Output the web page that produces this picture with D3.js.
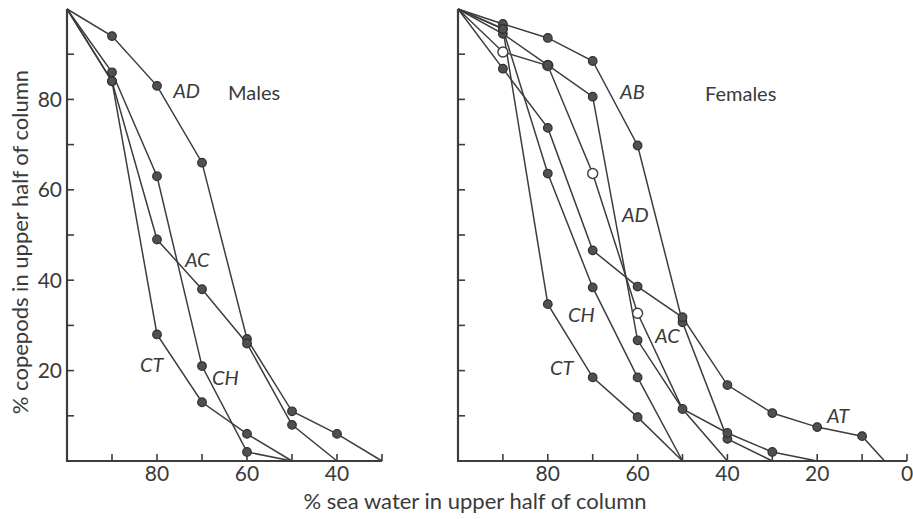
<!DOCTYPE html>
<html>
<head>
<meta charset="utf-8">
<script src="https://cdn.jsdelivr.net/npm/d3@7"></script>
<style>
  html, body { margin: 0; padding: 0; background: #fff; }
  svg { display: block; }
  text { font-family: Lato, "Open Sans", sans-serif; fill: #3a3a3a; }
</style>
</head>
<body>
<svg id="chart" width="913" height="519"></svg>
<script>
// ---- Data (x = % sea water in upper half, y = % copepods in upper half) ----
const maleAD = [[100,100],[90,94],[80,83],[70,66],[60,27],[50,11],[40,6],[30,0]];
const maleAC = [[100,100],[90,84],[80,49],[70,38],[60,26],[50,8],[40,0]];
const maleCH = [[100,100],[90,86],[80,63],[70,21],[60,2],[50,0]];
const maleCT = [[100,100],[90,84],[80,28],[70,13],[60,6],[50,0]];

const femaleAC = [[100,100],[90,90.5],[80,87.5],[70,63.6],[60,32.7],[50,11.5],[40,0]];
const femaleAB = [[100,100],[90,96.7],[80,93.6],[70,88.5],[60,69.8],[50,30.7],[40,4.9],[30,0]];
const femaleAD = [[100,100],[90,94.5],[80,87.6],[70,80.6],[60,26.7],[50,11.5],[40,6.2],[30,2],[20,0]];
const femaleAT = [[100,100],[90,86.8],[80,73.7],[70,46.6],[60,38.6],[50,31.8],[40,16.8],[30,10.6],[20,7.5],[10,5.5],[5,0]];
const femaleCH = [[100,100],[90,95.6],[80,63.6],[70,38.4],[60,18.5],[50,0]];
const femaleCT = [[100,100],[90,95.6],[80,34.7],[70,18.5],[60,9.7],[50,0]];

const yTicks = [10,20,30,40,50,60,70,80,90];
const yTickLabels = [20,40,60,80];
const maleXTicks = [90,80,70,60,50,40,30];
const maleXTickLabels = [80,60,40];
const femaleXTicks = [90,80,70,60,50,40,30,20,10,0];
const femaleXTickLabels = [80,60,40,20,0];

const maleLabels = [
  {text:"AD", x:76.4, y:80.3},
  {text:"AC", x:73.8, y:42.9},
  {text:"CT", x:83.8, y:19.7},
  {text:"CH", x:67.8, y:16.8}
];
const femaleLabels = [
  {text:"AB", x:63.9, y:80},
  {text:"AD", x:63.5, y:52.9},
  {text:"AC", x:56.1, y:26.1},
  {text:"CH", x:75.5, y:30.7},
  {text:"CT", x:79.5, y:19},
  {text:"AT", x:17.8, y:8.4}
];

// ---- Layout ----
const svg = d3.select("#chart");
const INK = "#3d3d3d";
const y = d3.scaleLinear().domain([0,100]).range([461, 9]);
const xMale = d3.scaleLinear().domain([100,30]).range([67, 382]);
const xFemale = d3.scaleLinear().domain([100,0]).range([458, 907]);

function panel(x, series, openSeries, xTicks, xTickLabels, labelY, labels, title, titlePos) {
  const g = svg.append("g");
  g.append("line").attr("x1", x(100)).attr("x2", x(100)).attr("y1", y(100)).attr("y2", y(0))
    .attr("stroke", INK).attr("stroke-width", 2.2);
  g.append("line").attr("x1", x(100) - 1).attr("x2", x(x.domain()[1])).attr("y1", y(0)).attr("y2", y(0))
    .attr("stroke", INK).attr("stroke-width", 2.2);
  g.selectAll(".yt").data(yTicks).join("line")
    .attr("x1", x(100)).attr("x2", x(100) + 7)
    .attr("y1", d => y(d)).attr("y2", d => y(d))
    .attr("stroke", INK).attr("stroke-width", 1.6);
  g.selectAll(".xt").data(xTicks).join("line")
    .attr("x1", d => x(d)).attr("x2", d => x(d))
    .attr("y1", y(0)).attr("y2", y(0) - 7)
    .attr("stroke", INK).attr("stroke-width", 1.6);
  g.selectAll(".xl").data(xTickLabels).join("text")
    .attr("x", d => x(d)).attr("y", 481)
    .attr("text-anchor", "middle").attr("font-size", 21)
    .text(d => d);
  if (labelY) {
    g.selectAll(".yl").data(yTickLabels).join("text")
      .attr("x", x(100) - 5).attr("y", d => y(d) + 7.5)
      .attr("text-anchor", "end").attr("font-size", 21)
      .text(d => d);
  }
  const line = d3.line().x(d => x(d[0])).y(d => y(d[1]));
  const all = openSeries.concat(series);
  g.selectAll(".ln").data(all).join("path")
    .attr("d", line).attr("fill", "none")
    .attr("stroke", INK).attr("stroke-width", 1.5);
  openSeries.forEach(s => {
    g.selectAll(null).data(s.filter(d => d[0] < 100 && d[1] > 0 && d[0] !== 50)).join("circle")
      .attr("cx", d => x(d[0])).attr("cy", d => y(d[1])).attr("r", 5)
      .attr("fill", "#fff").attr("stroke", INK).attr("stroke-width", 1.4);
  });
  series.forEach(s => {
    g.selectAll(null).data(s.filter(d => d[0] < 100 && d[1] > 0)).join("circle")
      .attr("cx", d => x(d[0])).attr("cy", d => y(d[1])).attr("r", 4.3)
      .attr("fill", "#505050").attr("stroke", "#2f2f2f").attr("stroke-width", 1.2);
  });
  g.selectAll(".lab").data(labels).join("text")
    .attr("x", d => x(d.x)).attr("y", d => y(d.y))
    .attr("font-size", 20).attr("font-style", "italic")
    .text(d => d.text);
  g.append("text").attr("x", titlePos[0]).attr("y", titlePos[1])
    .attr("font-size", 20).text(title);
}

panel(xMale, [maleAD, maleAC, maleCH, maleCT], [], maleXTicks, maleXTickLabels, true, maleLabels, "Males", [228, 100]);
panel(xFemale, [femaleAB, femaleAD, femaleAT, femaleCH, femaleCT], [femaleAC], femaleXTicks, femaleXTickLabels, false, femaleLabels, "Females", [705, 101]);

svg.append("text")
  .attr("transform", "translate(28,242) rotate(-90)")
  .attr("text-anchor", "middle").attr("font-size", 22)
  .text("% copepods in upper half of column");
svg.append("text")
  .attr("x", 475).attr("y", 509)
  .attr("text-anchor", "middle").attr("font-size", 22)
  .text("% sea water in upper half of column");
</script>
</body>
</html>
